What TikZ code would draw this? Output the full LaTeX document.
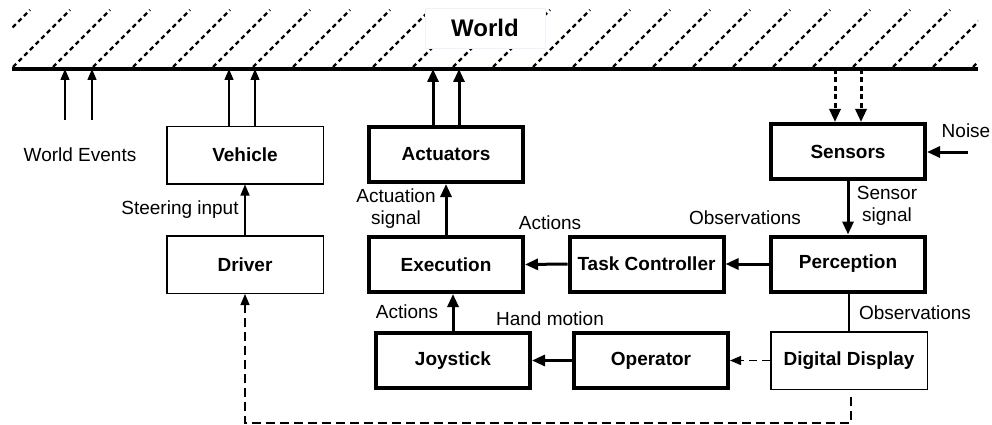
\documentclass[tikz,border=0pt]{standalone}
\usepackage{fontspec}
\setmainfont{Liberation Sans}
\usetikzlibrary{arrows.meta}
\begin{document}
\begin{tikzpicture}[x=1pt,y=-1pt,
  lbl/.style={font=\fontsize{19}{22}\selectfont, inner sep=0pt, align=center},
  box/.style={draw, line width=1.5pt, minimum width=156.5pt, minimum height=57.5pt,
    inner sep=0pt, font=\fontsize{19}{22}\selectfont\bfseries},
  heavybox/.style={box, line width=4pt, minimum width=154pt, minimum height=55pt},
  thinarrow/.style={line width=1.3pt, -{Triangle[length=11pt,width=9pt]}},
  thickarrow/.style={line width=3pt, -{Triangle[length=13pt,width=11pt]}},
  hatch/.style={line width=2.4pt, dash pattern=on 4.5pt off 3.5pt},
]
\useasboundingbox[fill=white] (0,0) rectangle (992,425);

% hatched world surface
\begin{scope}
  \clip (12,10) rectangle (978,67);
  \foreach \k in {-2,...,24} \draw[hatch] (13+40*\k,67) -- ++(57,-57);
\end{scope}
\coordinate (gl) at (12,69);
\coordinate (gr) at (978,69);
\draw[line width=3.5pt] (gl) -- (gr);
\node[fill=white, draw=blue!6, line width=0.8pt, minimum width=120pt, minimum height=40pt,
  font=\fontsize{24}{28}\selectfont\bfseries] (world) at (485,28) {World};

% blocks
\node[box] (vehicle) at (245,155) {Vehicle};
\node[box] (driver) at (245,264.5) {Driver};
\node[heavybox] (actuators) at (446,154.5) {Actuators};
\node[heavybox] (execution) at (446,264.5) {Execution};
\node[heavybox] (task) at (646.5,264) {Task Controller};
\node[heavybox] (perception) at (848,264) {Perception};
\node[heavybox] (sensors) at (848,151.5) {Sensors};
\node[heavybox] (joystick) at (453,360.5) {Joystick};
\node[heavybox] (operator) at (651,360.5) {Operator};
\node[box] (display) at (849,360.5) {Digital Display};

% world events
\coordinate (we1) at (65,120);
\coordinate (we2) at (92,120);
\draw[thinarrow] (we1) -- (we1 |- gl);
\draw[thinarrow] (we2) -- (we2 |- gl);
\node[lbl] (welbl) at (80,155) {World Events};

% vehicle to world
\draw[thinarrow] ([xshift=-16pt]vehicle.north) -- ([xshift=-16pt]vehicle.north |- gl);
\draw[thinarrow] ([xshift=10pt]vehicle.north) -- ([xshift=10pt]vehicle.north |- gl);

% actuators to world
\draw[thickarrow] ([xshift=-13pt]actuators.north) -- ([xshift=-13pt]actuators.north |- gl);
\draw[thickarrow] ([xshift=13pt]actuators.north) -- ([xshift=13pt]actuators.north |- gl);

% world to sensors
\draw[thickarrow, dash pattern=on 5pt off 3.5pt] ([xshift=-13pt]sensors.north |- gl) -- ([xshift=-13pt]sensors.north);
\draw[thickarrow, dash pattern=on 5pt off 3.5pt] ([xshift=13pt]sensors.north |- gl) -- ([xshift=13pt]sensors.north);

% noise
\coordinate (noise) at (968,152);
\draw[thickarrow] (noise) -- (sensors.east |- noise);
\node[lbl] (noiselbl) at (966,131) {Noise};

% signal chain
\draw[thickarrow] (sensors.south) -- (perception.north);
\node[lbl, align=center] (sslbl) at (887,206) {Sensor\\signal};
\draw[thickarrow] (perception.west) -- (task.east);
\node[lbl] (obs1) at (745,218) {Observations};
\draw[thickarrow] (task.west) -- (execution.east);
\node[lbl] (act1) at (550,223) {Actions};
\draw[thickarrow] (execution.north) -- (actuators.south);
\node[lbl, align=center] (aslbl) at (396,209) {Actuation\\signal};

% driver
\draw[thinarrow] (driver.north) -- (vehicle.south);
\node[lbl] (steer) at (180,210) {Steering input};

% operator loop
\draw[line width=1.3pt] (perception.south -| display.north) -- (display.north);
\node[lbl] (obs2) at (915,313) {Observations};
\draw[line width=1.3pt, dash pattern=on 8pt off 5pt, -{Triangle[length=11pt,width=9pt]}]
  (display.west) -- (operator.east);
\draw[thickarrow] (operator.west) -- (joystick.east);
\node[lbl] (hand) at (550,319) {Hand motion};
\draw[thickarrow] (joystick.north) -- (joystick.north |- execution.south);
\node[lbl] (act2) at (407,312) {Actions};

% remote view to driver
\draw[thinarrow, dash pattern=on 9pt off 5pt]
  ([xshift=2pt,yshift=-7pt]display.south) -- ++(0,26) -| (driver.south);
\end{tikzpicture}
\end{document}
